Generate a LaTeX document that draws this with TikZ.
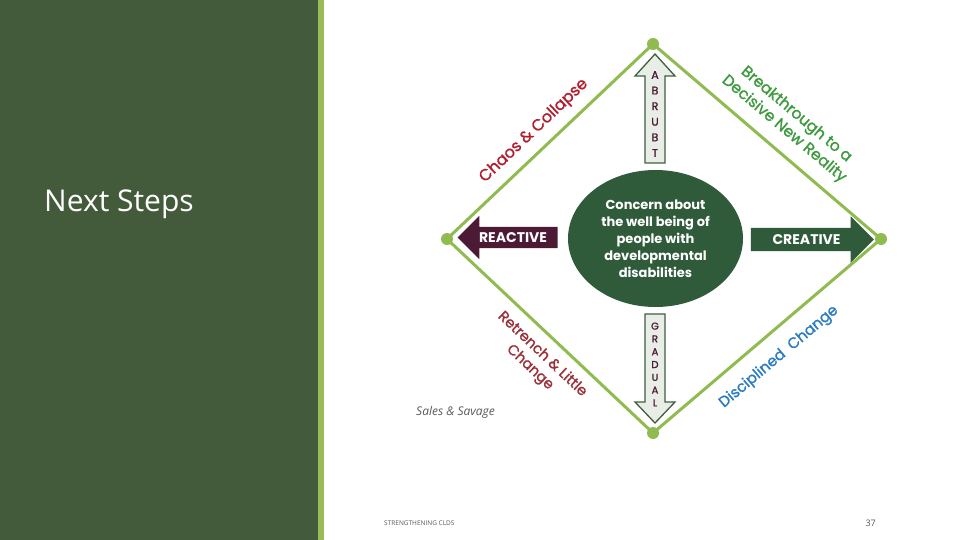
\documentclass[tikz,border=0pt]{standalone}
\usepackage{fontspec}
\setmainfont{Poppins}
\newfontfamily\slidefont{Open Sans}
\newfontfamily\labelfont{Poppins}[FakeBold=1.4]
\usetikzlibrary{shapes.geometric}
\usetikzlibrary{shapes.arrows}
\usetikzlibrary{positioning}

\definecolor{panelgreen}{HTML}{435A3B}
\definecolor{stripegreen}{HTML}{9BBB59}
\definecolor{edgegreen}{HTML}{8FBB50}
\definecolor{coregreen}{HTML}{305B3A}
\definecolor{reactpurple}{HTML}{4D1A36}
\definecolor{palefill}{HTML}{E8EEE5}
\definecolor{paceline}{HTML}{3F5F40}
\definecolor{lettercol}{HTML}{4A1A3A}
\definecolor{chaosred}{HTML}{B01E2E}
\definecolor{breakgreen}{HTML}{3E9A3E}
\definecolor{retrenchred}{HTML}{9A3038}
\definecolor{discblue}{HTML}{2B7BBF}
\definecolor{footgray}{HTML}{595959}

\tikzset{
	vdot/.style={circle, fill=edgegreen, inner sep=0pt, minimum size=12pt},
	edge/.style={draw=edgegreen, line width=3pt},
	core/.style={ellipse, fill=coregreen, text=white, align=center, inner sep=0pt,
		minimum width=175pt, minimum height=137pt,
		font=\bfseries\fontsize{13}{17}\selectfont},
	flowarrow/.style={single arrow, text=white, inner xsep=5pt, inner ysep=5.5pt,
		text height=10pt, text depth=0pt, single arrow head extend=11pt,
		font=\bfseries\fontsize{14}{14}\selectfont},
	pacearrow/.style={draw=paceline, line width=1.3pt, fill=palefill, line join=miter},
	pacetext/.style={align=center, text=lettercol, inner sep=0pt},
	edgetext/.style={align=center, inner sep=0pt, font=\labelfont\fontsize{15.5}{19}\selectfont},
}

\begin{document}
\begin{tikzpicture}[x=1pt,y=-1pt]
	\useasboundingbox (0,0) rectangle (960,540);

	% side panel
	\fill[panelgreen] (0,0) rectangle (318,540);
	\fill[stripegreen] (318,0) rectangle (324,540);
	\node (title) [anchor=west, text=white, inner sep=0pt,
		font=\slidefont\fontsize{30}{30}\selectfont] at (44,204) {Next Steps};

	% diamond
	\coordinate (T) at (653,44);
	\coordinate (L) at (447,239);
	\coordinate (R) at (881,239);
	\coordinate (B) at (653,433);

	\draw[edge] (L) -- (T) -- (R);
	\draw[edge] (L) -- (B) -- (R);

	\node (Tdot) [vdot] at (T) {};
	\node (Ldot) [vdot] at (L) {};
	\node (Rdot) [vdot] at (R) {};
	\node (Bdot) [vdot] at (B) {};

	% edge labels
	\node (chaos) [edgetext, text=chaosred, rotate=43.5,
		font=\labelfont\fontsize{16}{19}\selectfont] at (534,131) {Chaos \& Collapse};
	\node (breakthrough) [edgetext, text=breakgreen, rotate=-40] at (790,122)
		{Breakthrough to a\\Decisive New Reality};
	\node (retrench) [edgetext, text=retrenchred, rotate=-43.3,
		font=\labelfont\fontsize{14.5}{18}\selectfont] at (536,361) {Retrench \& Little\\Change};
	\node (disciplined) [edgetext, text=discblue, rotate=40,
		font=\labelfont\fontsize{15}{18}\selectfont] at (779,357) {Disciplined\ \ Change};

	% centre
	\node (core) [core] at (655.5,238.5)
		{Concern about\\the well being of\\people with\\developmental\\disabilities};

	\node (reactive) [flowarrow, fill=reactpurple, shape border rotate=180,
		minimum height=100pt] at (513,237.5) {REACTIVE};
	\node (creative) [flowarrow, fill=coregreen, inner ysep=6.5pt,
		single arrow head extend=11.5pt, minimum height=123pt] at (806.5,239.5) {CREATIVE};

	% abrupt / gradual
	\coordinate (abrupt) at (655,54);
	\draw[pacearrow] (abrupt) -- ++(20,22) -- ++(-10,0) -- ++(0,87) -- ++(-20,0)
		-- ++(0,-87) -- ++(-10,0) -- cycle;
	\node (abrupttxt) [pacetext, font=\labelfont\fontsize{11}{15.6}\selectfont]
		at (655,114) {A\\B\\R\\U\\B\\T};

	\coordinate (gradual) at (655,423);
	\draw[pacearrow] (gradual) -- ++(20,-21) -- ++(-10,0) -- ++(0,-88) -- ++(-20,0)
		-- ++(0,88) -- ++(-10,0) -- cycle;
	\node (gradualtxt) [pacetext, font=\labelfont\fontsize{10}{12.8}\selectfont]
		at (655,364.5) {G\\R\\A\\D\\U\\A\\L};

	% source and footer
	\node (source) [anchor=west, inner sep=0pt, text=footgray,
		font=\slidefont\itshape\fontsize{12}{12}\selectfont] at (416,412) {Sales \& Savage};
	\node (footer) [anchor=west, inner sep=0pt, text=footgray,
		font=\slidefont\fontsize{6.5}{6.5}\selectfont] at (384,523) {STRENGTHENING CLDS};
	\node (pageno) [anchor=east, inner sep=0pt, text=footgray,
		font=\slidefont\fontsize{9}{9}\selectfont] at (876,523) {37};
\end{tikzpicture}
\end{document}
